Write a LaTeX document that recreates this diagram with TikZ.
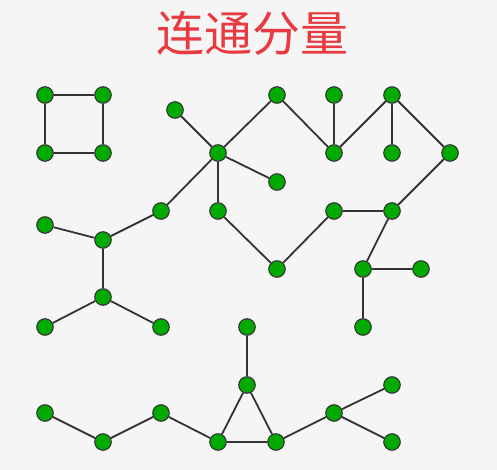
\documentclass[tikz,border=0pt]{standalone}
\usepackage{fontspec}
\newfontfamily\cjk{Noto Sans CJK SC}
\usepackage{tikz}
\usetikzlibrary{positioning}
\definecolor{bggray}{RGB}{245,245,245}
\definecolor{titlered}{RGB}{232,58,64}
\definecolor{vgreen}{RGB}{0,170,0}
\definecolor{edgegray}{RGB}{51,51,51}
\tikzset{
  vertex/.style={circle, fill=vgreen, draw=edgegray, line width=1.1pt, minimum size=16.5pt, inner sep=0pt},
  edge/.style={draw=edgegray, line width=1.8pt}
}

\begin{document}
\begin{tikzpicture}[x=1pt, y=-1pt]
      \fill[bggray] (0,0) rectangle (497,470);
      \node[text=titlered, font=\cjk\fontsize{48}{48}\selectfont] (title) at (252,33) {连通分量};

      \node[vertex] (S1) at (45,95) {};
      \node[vertex] (S2) at (103,95) {};
      \node[vertex] (S3) at (45,153) {};
      \node[vertex] (S4) at (103,153) {};

      \node[vertex] (G1) at (175,110) {};
      \node[vertex] (G2) at (218,153) {};
      \node[vertex] (G3) at (277,95) {};
      \node[vertex] (G4) at (277,182) {};
      \node[vertex] (G5) at (218,211) {};
      \node[vertex] (G6) at (161,211) {};
      \node[vertex] (G7) at (103,240) {};
      \node[vertex] (G8) at (45,225) {};
      \node[vertex] (G9) at (103,297) {};
      \node[vertex] (G10) at (45,327) {};
      \node[vertex] (G11) at (161,327) {};
      \node[vertex] (G12) at (277,269) {};
      \node[vertex] (G13) at (334,211) {};
      \node[vertex] (G14) at (392,211) {};
      \node[vertex] (G15) at (450,153) {};
      \node[vertex] (G16) at (363,269) {};
      \node[vertex] (G17) at (421,269) {};
      \node[vertex] (G18) at (363,327) {};
      \node[vertex] (G19) at (334,153) {};
      \node[vertex] (G20) at (334,95) {};
      \node[vertex] (G21) at (392,95) {};
      \node[vertex] (G22) at (392,153) {};

      \node[vertex] (H1) at (45,413) {};
      \node[vertex] (H2) at (103,442) {};
      \node[vertex] (H3) at (161,413) {};
      \node[vertex] (H4) at (218,442) {};
      \node[vertex] (H5) at (276,442) {};
      \node[vertex] (H6) at (247,385) {};
      \node[vertex] (H7) at (247,327) {};
      \node[vertex] (H8) at (334,413) {};
      \node[vertex] (H9) at (392,385) {};
      \node[vertex] (H10) at (392,442) {};

      \draw[edge] (node cs:name=S1) -- (node cs:name=S2);
      \draw[edge] (node cs:name=S2) -- (node cs:name=S4);
      \draw[edge] (node cs:name=S4) -- (node cs:name=S3);
      \draw[edge] (node cs:name=S3) -- (node cs:name=S1);

      \draw[edge] (node cs:name=G2) -- (node cs:name=G1);
      \draw[edge] (node cs:name=G2) -- (node cs:name=G3);
      \draw[edge] (node cs:name=G2) -- (node cs:name=G4);
      \draw[edge] (node cs:name=G2) -- (node cs:name=G5);
      \draw[edge] (node cs:name=G2) -- (node cs:name=G6);
      \draw[edge] (node cs:name=G6) -- (node cs:name=G7);
      \draw[edge] (node cs:name=G7) -- (node cs:name=G8);
      \draw[edge] (node cs:name=G7) -- (node cs:name=G9);
      \draw[edge] (node cs:name=G9) -- (node cs:name=G10);
      \draw[edge] (node cs:name=G9) -- (node cs:name=G11);
      \draw[edge] (node cs:name=G5) -- (node cs:name=G12);
      \draw[edge] (node cs:name=G12) -- (node cs:name=G13);
      \draw[edge] (node cs:name=G13) -- (node cs:name=G14);
      \draw[edge] (node cs:name=G14) -- (node cs:name=G15);
      \draw[edge] (node cs:name=G14) -- (node cs:name=G16);
      \draw[edge] (node cs:name=G16) -- (node cs:name=G17);
      \draw[edge] (node cs:name=G16) -- (node cs:name=G18);
      \draw[edge] (node cs:name=G3) -- (node cs:name=G19);
      \draw[edge] (node cs:name=G19) -- (node cs:name=G20);
      \draw[edge] (node cs:name=G19) -- (node cs:name=G21);
      \draw[edge] (node cs:name=G21) -- (node cs:name=G22);
      \draw[edge] (node cs:name=G21) -- (node cs:name=G15);

      \draw[edge] (node cs:name=H1) -- (node cs:name=H2);
      \draw[edge] (node cs:name=H2) -- (node cs:name=H3);
      \draw[edge] (node cs:name=H3) -- (node cs:name=H4);
      \draw[edge] (node cs:name=H4) -- (node cs:name=H5);
      \draw[edge] (node cs:name=H4) -- (node cs:name=H6);
      \draw[edge] (node cs:name=H5) -- (node cs:name=H6);
      \draw[edge] (node cs:name=H6) -- (node cs:name=H7);
      \draw[edge] (node cs:name=H5) -- (node cs:name=H8);
      \draw[edge] (node cs:name=H8) -- (node cs:name=H9);
      \draw[edge] (node cs:name=H8) -- (node cs:name=H10);
    \end{tikzpicture}
\end{document}
